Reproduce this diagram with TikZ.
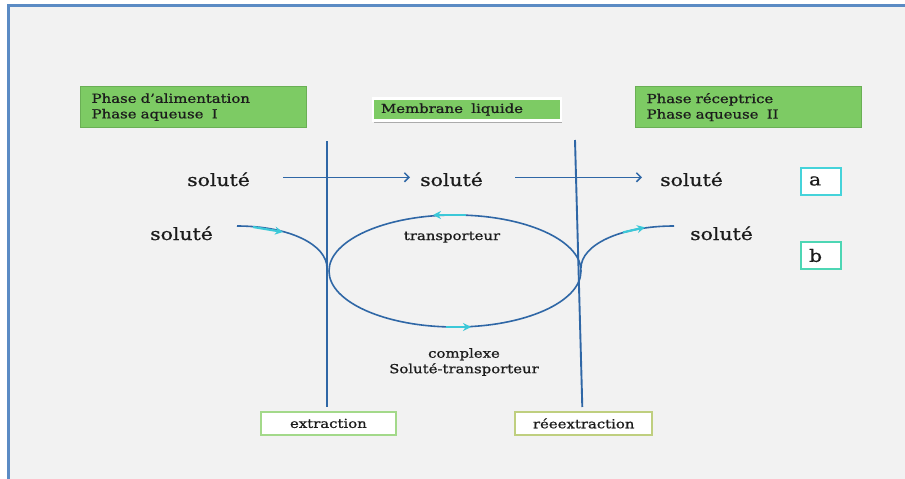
\documentclass[tikz,border=0pt]{standalone}
\usepackage{fontspec}
\setmainfont{DejaVu Serif}[FakeStretch=1.2, FakeBold=0.9]
\usetikzlibrary{arrows.meta,shadows}

\definecolor{framec}{HTML}{5B8BC4}
\definecolor{bgc}{HTML}{F2F2F2}
\definecolor{greenfill}{HTML}{7DCB64}
\definecolor{greenline}{HTML}{6AAF55}
\definecolor{linec}{HTML}{2F67A6}
\definecolor{cyanarr}{HTML}{3CC8D8}
\definecolor{boxa}{HTML}{45D3DA}
\definecolor{boxb}{HTML}{4DD6B4}
\definecolor{extc}{HTML}{A3D98A}
\definecolor{reextc}{HTML}{BFCF7F}
\definecolor{inkc}{HTML}{1C1C1C}

\tikzset{
  smalltxt/.style={font=\fontsize{12.4}{15.5}\selectfont, text=inkc},
  bigtxt/.style={font=\fontsize{17}{20}\selectfont, text=inkc, inner sep=0pt},
  phasebox/.style={smalltxt, draw=greenline, line width=1.3pt, fill=greenfill,
    anchor=north west, minimum height=41pt, text width=204pt,
    inner xsep=11pt, align=left},
  membox/.style={smalltxt, draw=white, line width=2.8pt, fill=greenfill,
    minimum height=22pt, text width=172pt, inner xsep=8pt, align=left,
    drop shadow={shadow xshift=1pt, shadow yshift=-2.5pt, opacity=0.5, fill=black!60}},
  letterbox/.style={font=\fontsize{17}{20}\selectfont, text=inkc, fill=white, line width=2pt,
    minimum height=27pt, text width=24pt, inner xsep=8pt, align=left},
  stagebox/.style={smalltxt, fill=white, line width=2pt, minimum height=23pt,
    inner sep=0pt},
  membrane/.style={draw=linec, line width=1.9pt},
  flow/.style={draw=linec, line width=1.6pt},
  flowarrow/.style={flow, -{Straight Barb[length=4.5pt,width=9pt,line width=1.5pt]}},
  motion/.style={draw=cyanarr, line width=2.2pt, -{Stealth[length=8pt,width=8pt]}},
}

\begin{document}
\begin{tikzpicture}[x=1pt, y=-1pt]
  \useasboundingbox (0,0) rectangle (905,479);
  % page background and frame
  \fill[white] (0,0) rectangle (905,479);
  \fill[bgc] (9,6) rectangle (905,479);
  \draw[framec, line width=3pt] (8.8,479) -- (8.8,5.8) -- (905,5.8);

  % phase labels
  \node[phasebox] (feed) at (80,86) {Phase d'alimentation\\Phase aqueuse~~I};
  \node[phasebox] (strip) at (635,86) {Phase réceptrice\\Phase aqueuse~~II};
  \node[membox] (memb) at (467,109.5) {Membrane~ liquide};

  % membrane walls
  \coordinate (lwtop) at (327.3,141);
  \coordinate (lwbot) at (327.3,407);
  \coordinate (rwtop) at (575,140);
  \coordinate (rwbot) at (582.3,407);
  \draw[membrane] (lwtop) -- (lwbot);
  \draw[membrane] (rwtop) -- (rwbot);

  % mechanism a : simple diffusion
  \node[bigtxt, anchor=base west] (sa1) at (187,186) {soluté};
  \node[bigtxt, anchor=base west] (sa2) at (420,186) {soluté};
  \node[bigtxt, anchor=base west] (sa3) at (660,186) {soluté};
  \draw[flowarrow] ([xshift=33pt,yshift=8.7pt]sa1.base east) -- ([xshift=-10pt,yshift=8.7pt]sa2.base west);
  \draw[flowarrow] ([xshift=32pt,yshift=8.7pt]sa2.base east) -- ([xshift=-18pt,yshift=8.7pt]sa3.base west);
  \node[letterbox, draw=boxa] (boxA) at (821,181) {a};

  % mechanism b : carrier transport
  \node[bigtxt, anchor=base west] (sb1) at (150,240) {soluté};
  \node[bigtxt, anchor=base west] (sb2) at (690,240) {soluté};
  \node[letterbox, draw=boxb] (boxB) at (821,255.5) {b};

  \coordinate (inL) at (237,226);
  \coordinate (cuspL) at (327,268);
  \coordinate (inR) at (674,226);
  \coordinate (cuspR) at (581,268);
  \draw[flow] (inL) .. controls (290,226) and (327,245) .. (cuspL);
  \draw[flow] (inR) .. controls (620,226) and (581,245) .. (cuspR);
  \coordinate (loop) at (455,271);
  \draw[flow] (loop) ellipse [x radius=126pt, y radius=56pt];

  % direction of motion
  \draw[motion] (253,227) -- (283,232);
  \draw[motion] (466,215) -- (433,215);
  \draw[motion] (446,327) -- (471,327);
  \draw[motion] (623,232.4) -- (645,227.3);

  \node[smalltxt, inner sep=0pt, anchor=base] (carrier) at (452,240) {transporteur};
  \node[smalltxt, inner sep=0pt, align=center] (complex) at (464,362) {complexe\\Soluté-transporteur};

  % stages
  \node[stagebox, draw=extc, minimum width=135pt] (extr) at (328.4,423.4) {extraction};
  \node[stagebox, draw=reextc, minimum width=137pt] (reextr) at (583.7,423.4) {réeextraction};
\end{tikzpicture}
\end{document}
